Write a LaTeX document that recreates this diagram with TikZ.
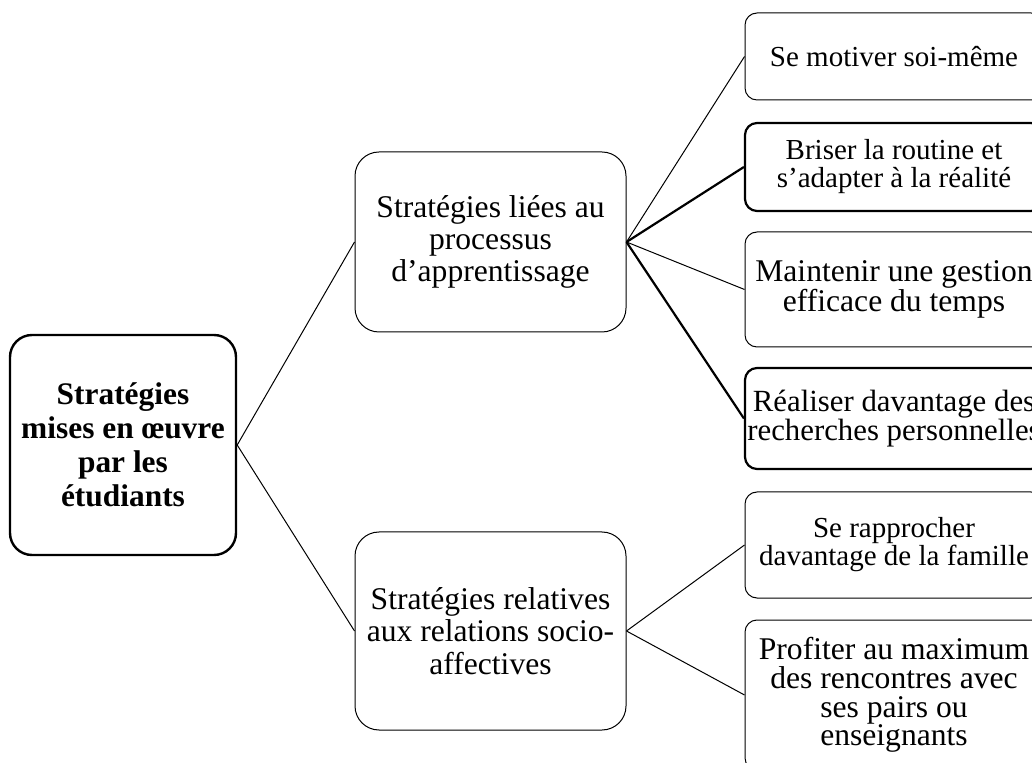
\documentclass[tikz,border=0pt]{standalone}
\usepackage{fontspec}
\setmainfont{Liberation Serif}
\begin{document}
\begin{tikzpicture}[x=0.5pt, y=-0.5pt,
    mainbox/.style={draw, line width=1.2pt, rounded corners=11pt, align=center, inner sep=0pt,
      minimum width=113pt, minimum height=110pt, font=\fontsize{15.7}{17}\selectfont\bfseries},
    midbox/.style={draw, line width=0.5pt, rounded corners=12pt, align=center, inner sep=0pt,
      minimum width=135.5pt, font=\fontsize{15.8}{16.2}\selectfont},
    leafbox/.style={draw, line width=0.5pt, rounded corners=6pt, align=center, inner sep=0pt,
      minimum width=149pt, font=\fontsize{14.5}{14}\selectfont},
    bigleaf/.style={font=\fontsize{15.8}{15}\selectfont},
    heavy/.style={line width=1.1pt}]
  \clip (0,0) rectangle (1032,763);
  \node[mainbox] (root) at (123,445) {Stratégies\\mises en œuvre\\par les\\étudiants};
  \node[midbox, minimum height=90pt] (proc) at (490.5,242) {Stratégies liées au\\processus\\d’apprentissage};
  \node[midbox, minimum height=99pt] (socio) at (490.5,631) {Stratégies relatives\\aux relations socio-\\affectives};
  % feuilles
  \node[leafbox, minimum height=43.5pt] (motiv) at (894,56.5) {Se motiver soi-même};
  \node[leafbox, heavy, minimum height=44pt] (routine) at (894,167) {Briser la routine et\\s’adapter à la réalité};
  \node[leafbox, bigleaf, minimum height=57.5pt] (temps) at (894,289.5) {Maintenir une gestion\\efficace du temps};
  \node[leafbox, heavy, font=\fontsize{15.4}{14.2}\selectfont, minimum height=50.5pt] (recherche) at (894,418.5) {Réaliser davantage des\\recherches personnelles};
  \node[leafbox, minimum height=53pt] (famille) at (894,545) {Se rapprocher\\davantage de la famille};
  \node[leafbox, font=\fontsize{15.8}{14.4}\selectfont, minimum height=75pt] (pairs) at (894,695) {Profiter au maximum\\des rencontres avec\\ses pairs ou\\enseignants};
  \foreach \mid in {proc,socio}
    \draw[line width=0.5pt] (root.east) -- (\mid.west);
  \foreach \leaf in {motiv,temps}
    \draw[line width=0.5pt] (proc.east) -- (\leaf.west);
  \foreach \leaf in {routine,recherche}
    \draw[heavy] (proc.east) -- (\leaf.west);
  \foreach \leaf in {famille,pairs}
    \draw[line width=0.5pt] (socio.east) -- (\leaf.west);
\end{tikzpicture}
\end{document}
